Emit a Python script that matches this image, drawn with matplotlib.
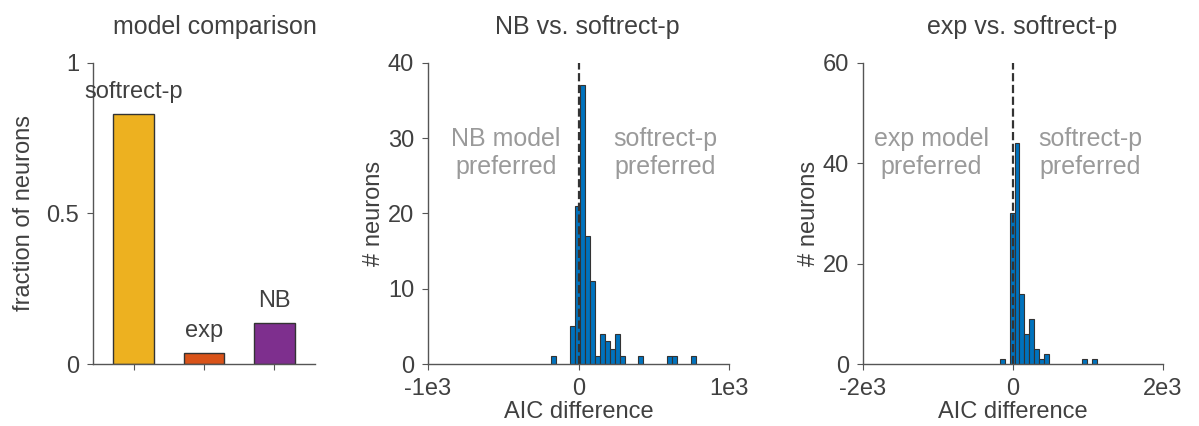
import numpy as np
import matplotlib
matplotlib.use("Agg")
import matplotlib.pyplot as plt

plt.rcParams['font.family'] = ['Liberation Sans', 'DejaVu Sans']

# model comparison (fraction of neurons best fit by each model)
models = ['softrect-p', 'exp', 'NB']
fractions = [0.83, 0.037, 0.137]
model_colors = ['#EDB120', '#D95319', '#7E2F8E']

# AIC difference histogram, NB vs softrect-p
nb_centers = [-169, -41, -8, 25, 59, 92, 125, 158, 191, 225, 258, 291,
              413, 605, 638, 765]
nb_counts = [1, 5, 21, 37, 17, 11, 1, 4, 3, 2, 4, 1, 1, 1, 1, 1]
nb_width = 33.2

# AIC difference histogram, exp vs softrect-p
exp_centers = [-140, -11, 54, 120, 186, 252, 318, 384, 447, 958, 1088]
exp_counts = [1, 30, 44, 14, 6, 9, 3, 1, 2, 1, 1]
exp_width = 64.5

TXT = '#404040'
GRAY = '#9a9a9a'
EDGE = '#333333'
FS = 17


def style_axes(ax):
    for s in ['top', 'right']:
        ax.spines[s].set_visible(False)
    for s in ['left', 'bottom']:
        ax.spines[s].set_color('#555555')
        ax.spines[s].set_linewidth(1.0)
    ax.tick_params(colors='#555555', labelcolor=TXT, labelsize=FS,
                   direction='out', length=4)
    ax.tick_params(axis='y', pad=6)
    ax.tick_params(axis='x', pad=6)


fig = plt.figure(figsize=(11.99, 4.26), dpi=100)

# left: model comparison
ax0 = fig.add_axes([0.0776, 0.1455, 0.185, 0.707])
x = np.arange(1, len(models) + 1)
ax0.bar(x, fractions, width=0.58, color=model_colors, edgecolor=EDGE,
        linewidth=1.0)
for xi, f, name in zip(x, fractions, models):
    ax0.text(xi, f + 0.035, name, ha='center', va='bottom', fontsize=FS,
             color=TXT)
ax0.set_xlim(0.42, 3.58)
ax0.set_ylim(0, 1)
ax0.set_xticks(x)
ax0.set_xticklabels([])
ax0.set_yticks([0, 0.5, 1])
ax0.set_yticklabels(['0', '0.5', '1'])
ax0.set_ylabel('fraction of neurons', fontsize=FS, color=TXT, labelpad=8)
ax0.set_title('model comparison', fontsize=FS + 1, color=TXT, pad=21,
              x=0.55)
style_axes(ax0)

# middle: NB vs softrect-p
ax1 = fig.add_axes([0.357, 0.1455, 0.251, 0.707])
ax1.bar(nb_centers, nb_counts, width=nb_width, color='#0072BD',
        edgecolor=EDGE, linewidth=0.8)
ax1.axvline(0, color='#333333', linestyle='--', linewidth=1.6)
ax1.set_xlim(-1000, 1000)
ax1.set_ylim(0, 40)
ax1.set_xticks([-1000, 0, 1000])
ax1.set_xticklabels(['-1e3', '0', '1e3'])
ax1.set_yticks([0, 10, 20, 30, 40])
ax1.set_xlabel('AIC difference', fontsize=FS, color=TXT, labelpad=1)
ax1.set_ylabel('# neurons', fontsize=FS, color=TXT, labelpad=2)
ax1.set_title('NB vs. softrect-p', fontsize=FS + 1, color=TXT, pad=21,
              x=0.53)
ax1.text(-484, 28.0, 'NB model\npreferred', ha='center', va='center',
         fontsize=FS + 1, color=GRAY, linespacing=1.2)
ax1.text(577, 28.0, 'softrect-p\npreferred', ha='center', va='center',
         fontsize=FS + 1, color=GRAY, linespacing=1.2)
style_axes(ax1)

# right: exp vs softrect-p
ax2 = fig.add_axes([0.7198, 0.1455, 0.250, 0.707])
ax2.bar(exp_centers, exp_counts, width=exp_width, color='#0072BD',
        edgecolor=EDGE, linewidth=0.8)
ax2.axvline(0, color='#333333', linestyle='--', linewidth=1.6)
ax2.set_xlim(-2000, 2000)
ax2.set_ylim(0, 60)
ax2.set_xticks([-2000, 0, 2000])
ax2.set_xticklabels(['-2e3', '0', '2e3'])
ax2.set_yticks([0, 20, 40, 60])
ax2.set_xlabel('AIC difference', fontsize=FS, color=TXT, labelpad=1)
ax2.set_ylabel('# neurons', fontsize=FS, color=TXT, labelpad=2)
ax2.set_title('exp vs. softrect-p', fontsize=FS + 1, color=TXT, pad=21,
              x=0.53)
ax2.text(-1093, 42.0, 'exp model\npreferred', ha='center', va='center',
         fontsize=FS + 1, color=GRAY, linespacing=1.2)
ax2.text(1027, 42.0, 'softrect-p\npreferred', ha='center', va='center',
         fontsize=FS + 1, color=GRAY, linespacing=1.2)
style_axes(ax2)

fig.savefig('out.png', dpi=100)
